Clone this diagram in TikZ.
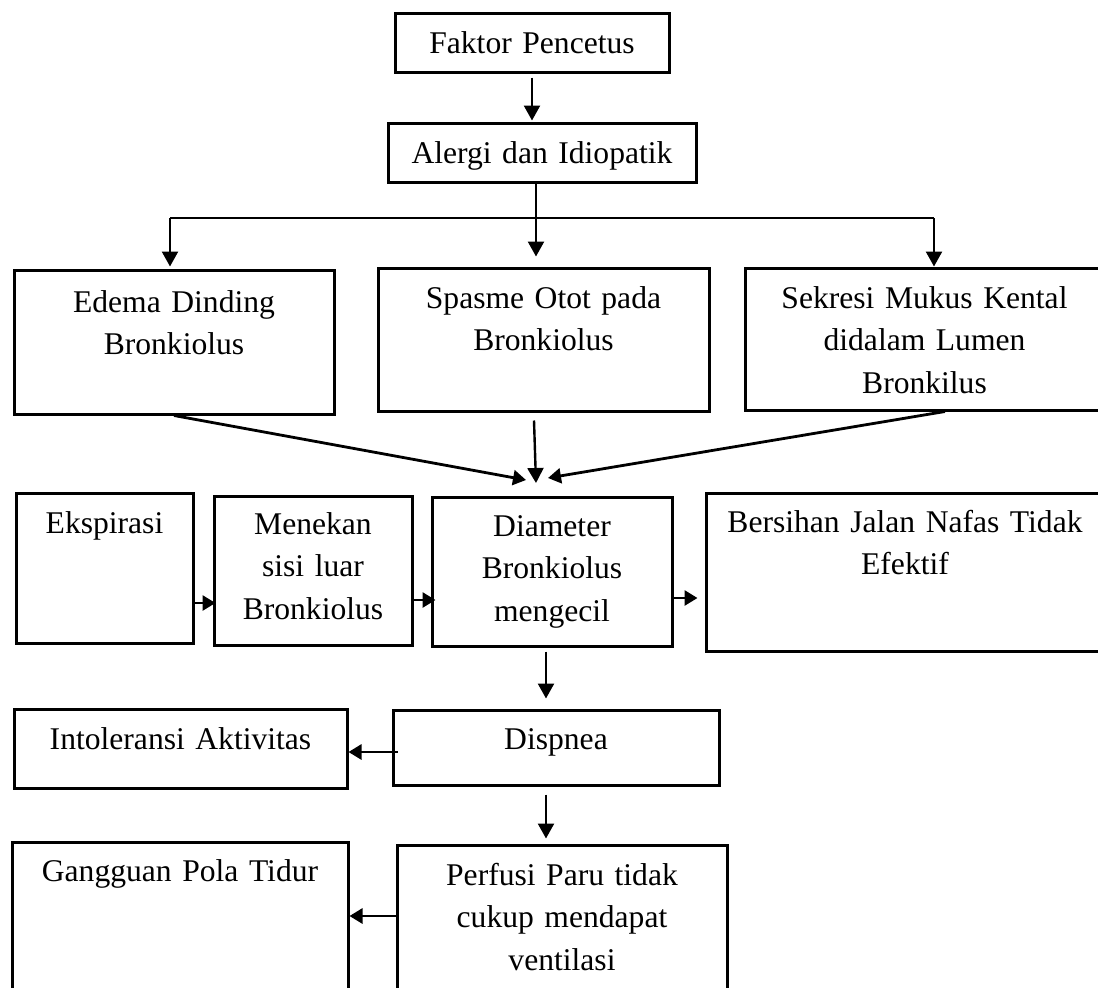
\documentclass[tikz,border=0pt]{standalone}
\usepackage{fontspec}
\setmainfont{Liberation Serif}
\usetikzlibrary{arrows.meta,calc}
\tikzset{
  box/.style={draw, line width=3pt, inner sep=0pt, anchor=base, align=center},
  arr/.style={line width=2.4pt, -{Triangle[length=15pt,width=16pt]}},
  arrs/.style={line width=2.8pt, -{Triangle[length=13pt,width=15pt]}},
  bus/.style={line width=2pt}
}
\begin{document}
\begin{tikzpicture}[x=1pt,y=-1pt,font=\fontsize{31.6pt}{42.5pt}\selectfont]
\useasboundingbox (0,0) rectangle (1098,988);
\clip (0,0) rectangle (1098,988);
% boxes
\node[box, text width=274pt, text height=40pt, text depth=19pt] (fak) at (532,53) {Faktor Pencetus};
\node[box, text width=308pt, text height=40pt, text depth=19pt] (ale) at (542,163) {Alergi dan Idiopatik};
\node[box, text width=320pt, text height=42pt, text depth=102pt] (ede) at (174,312) {Edema Dinding\\Bronkiolus};
\node[box, text width=331pt, text height=40pt, text depth=103pt] (spa) at (543.5,308) {Spasme Otot pada\\Bronkiolus};
\node[box, text width=359pt, text height=40pt, text depth=102pt] (sek) at (924.5,308) {Sekresi Mukus Kental\\didalam Lumen\\Bronkilus};
\node[box, text width=177pt, text height=40pt, text depth=110pt] (eks) at (104.5,533) {Ekspirasi};
\node[box, text width=198pt, text height=38pt, text depth=111pt] (men) at (313,534) {Menekan\\sisi luar\\Bronkiolus};
\node[box, text width=240pt, text height=39pt, text depth=110pt] (dia) at (552,536) {Diameter\\Bronkiolus\\mengecil};
\node[box, text width=398pt, text height=39pt, text depth=119pt] (ber) at (905,532) {Bersihan Jalan Nafas Tidak\\Efektif};
\node[box, text width=333pt, text height=40pt, text depth=39pt] (int) at (180.5,749) {Intoleransi Aktivitas};
\node[box, text width=326pt, text height=39pt, text depth=36pt] (dis) at (556,749) {Dispnea};
\node[box, text width=336pt, text height=39pt, text depth=129pt] (gan) at (180,881) {Gangguan Pola Tidur};
\node[box, text width=330pt, text height=40pt, text depth=125pt] (per) at (562,885) {Perfusi Paru tidak\\cukup mendapat\\ventilasi};
% helper coordinates
\coordinate (busL) at (170,218);
\coordinate (busR) at (934,218);
\coordinate (busM) at (536,218);
\coordinate (cL) at (526,480);
\coordinate (cM) at (536,483);
\coordinate (cR) at (548,478);
\coordinate (y1) at (0,603);
\coordinate (y2) at (0,600);
\coordinate (y3) at (0,598);
\coordinate (dx) at (546,0);
\coordinate (yI) at (0,752);
\coordinate (yG) at (0,916);
% connectors
\draw[arr] ([yshift=-4pt]fak.south) -- ([yshift=1pt]fak.south |- ale.north);
\draw[arr] (ale.south -| busM) -- ([yshift=10pt]busM |- spa.north);
\draw[bus] (busL) -- (busR);
\draw[arr] (busL) -- ([yshift=2pt]busL |- ede.north);
\draw[arr] (busR) -- (busR |- sek.north);
\draw[arrs] (ede.south) -- (cL);
\draw[arr] ([xshift=-9.5pt,yshift=-8pt]spa.south) -- (cM);
\draw[arrs] ([xshift=20.5pt]sek.south) -- (cR);
\draw[arrs] (eks.east |- y1) -- ([xshift=3pt]men.west |- y1);
\draw[arrs] (men.east |- y2) -- ([xshift=5pt]dia.west |- y2);
\draw[arrs] (dia.east |- y3) -- ([xshift=-7pt]ber.west |- y3);
\draw[arr] ([yshift=-4pt]dx |- dia.south) -- ([yshift=10pt]dx |- dis.north);
\draw[arrs] ([xshift=6pt]dis.west |- yI) -- (int.east |- yI);
\draw[arr] ([yshift=-8pt]dx |- dis.south) -- ([yshift=5pt]dx |- per.north);
\draw[arrs] ([xshift=2pt]per.west |- yG) -- (gan.east |- yG);
\end{tikzpicture}
\end{document}
